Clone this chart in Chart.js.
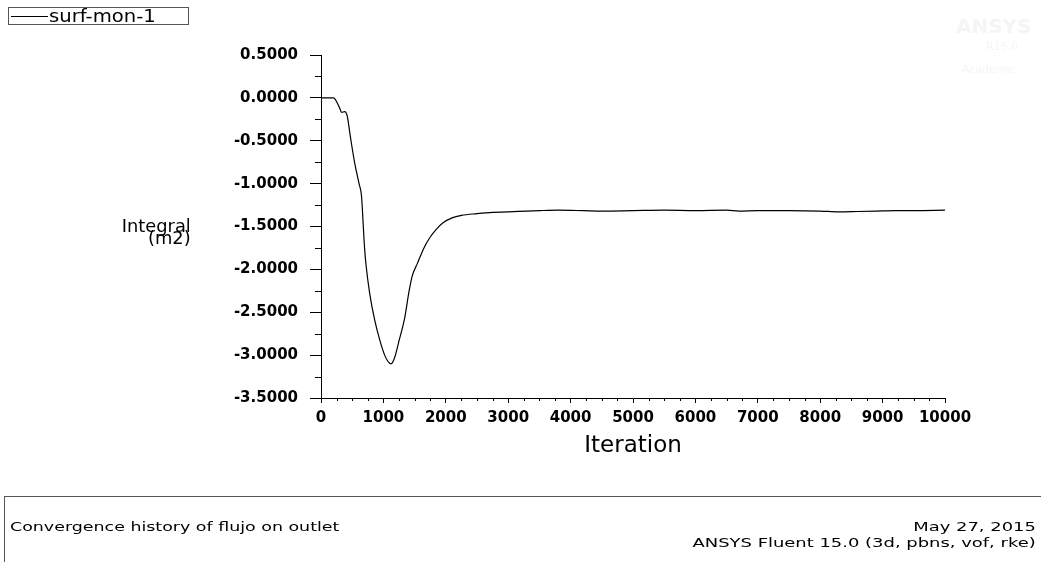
<!DOCTYPE html>
<html><head><meta charset="utf-8">
<script src="https://cdn.jsdelivr.net/npm/chart.js@4/dist/chart.umd.min.js"></script>
<style>
html,body{margin:0;padding:0;background:#fff;}
#wrap{position:relative;width:1041px;height:562px;overflow:hidden;font-family:"DejaVu Sans",sans-serif;color:#000;}
#c{position:absolute;left:0;top:0;width:1041px;height:562px;}
.abs{position:absolute;white-space:nowrap;}
.sl{transform:scaleX(1.34);transform-origin:left center;}
.sr{transform:scaleX(1.38);transform-origin:right center;}
</style></head><body>
<div id="wrap">
<canvas id="c" width="1041" height="562"></canvas>
<div class="abs" style="left:8px;top:7px;width:179px;height:16px;border:1px solid #555;">
  <div class="abs" style="left:2px;top:8px;width:37px;border-top:1px solid #000;"></div>
  <div class="abs" id="legText" style="left:40px;top:-1px;font-size:18px;line-height:18px;transform:scaleX(1.09);transform-origin:left center;"></div>
</div>
<div class="abs" style="right:850px;top:218px;font-size:17px;line-height:17px;text-align:right;transform:scaleX(1.05);transform-origin:right center;">Integral</div>
<div class="abs" style="right:850px;top:230px;font-size:17px;line-height:17px;text-align:right;transform:scaleX(1.05);transform-origin:right center;">(m2)</div>
<div class="abs" style="left:956px;top:14px;font-size:20px;font-weight:bold;color:#f5f5f5;">ANSYS</div>
<div class="abs" style="left:986px;top:40px;font-size:11px;color:#f5f5f5;">R15.0</div>
<div class="abs" style="left:962px;top:63px;font-size:11px;color:#f5f5f5;">Academic</div>
<div class="abs" style="left:4px;top:496px;width:1037px;height:66px;border-top:1px solid #555;border-left:1px solid #555;"></div>
<div class="abs sl" style="left:10px;top:519px;font-size:13px;line-height:15px;">Convergence history of flujo on outlet</div>
<div class="abs sr" style="right:5px;top:519px;font-size:13px;line-height:15px;">May 27, 2015</div>
<div class="abs sr" style="right:5px;top:535px;font-size:13px;line-height:15px;">ANSYS Fluent 15.0 (3d, pbns, vof, rke)</div>
</div>
<script>
const seriesName = 'surf-mon-1';
const iterations = [0,200,300,330,380,420,470,540,610,650,675,700,725,780,860,940,1020,1100,1125,1175,1255,1335,1415,1465,1545,1650,1735,1840,1950,2100,2250,2500,2750,3000,3300,3500,3800,4200,4500,5000,5500,6000,6500,6700,7000,7500,8000,8300,8600,8900,9200,9500,10000];
const integralValues = [0,0,-0.12,-0.17,-0.16,-0.21,-0.45,-0.76,-1.0,-1.15,-1.46,-1.77,-1.97,-2.28,-2.59,-2.82,-3.0,-3.095,-3.10,-3.04,-2.82,-2.59,-2.24,-2.07,-1.93,-1.75,-1.64,-1.54,-1.46,-1.40,-1.37,-1.35,-1.335,-1.33,-1.32,-1.315,-1.31,-1.315,-1.32,-1.315,-1.31,-1.315,-1.31,-1.32,-1.315,-1.315,-1.32,-1.33,-1.325,-1.32,-1.315,-1.315,-1.31];
const xTickValues = [0,1000,2000,3000,4000,5000,6000,7000,8000,9000,10000];
const yTickValues = [0.5,0,-0.5,-1,-1.5,-2,-2.5,-3,-3.5];
const xTitle = 'Iteration';

document.getElementById('legText').textContent = seriesName;

const FONT = 'DejaVu Sans';
const minorTicks = {
  id: 'minorTicks',
  afterDraw(chart) {
    const {ctx, chartArea: a, scales: {x, y}} = chart;
    ctx.save();
    ctx.strokeStyle = '#000';
    ctx.lineWidth = 1;
    ctx.beginPath();
    for (let i = 0; i < yTickValues.length - 1; i++) {
      const v = (yTickValues[i] + yTickValues[i + 1]) / 2;
      const p = Math.round(y.getPixelForValue(v)) + 0.5;
      ctx.moveTo(a.left - 6, p); ctx.lineTo(a.left, p);
    }
    for (let i = 0; i < xTickValues.length - 1; i++) {
      const step = (xTickValues[i + 1] - xTickValues[i]) / 4;
      for (let k = 1; k < 4; k++) {
        const p = Math.round(x.getPixelForValue(xTickValues[i] + k * step)) + 0.5;
        ctx.moveTo(p, a.bottom); ctx.lineTo(p, a.bottom + 3);
      }
    }
    ctx.stroke();
    ctx.restore();
  }
};

function zeroPad(s) { s.paddingLeft = 0; s.paddingRight = 0; s.paddingTop = 0; s.paddingBottom = 0; }

new Chart(document.getElementById('c'), {
  type: 'line',
  data: {
    datasets: [{
      label: seriesName,
      data: iterations.map((it, i) => ({x: it, y: integralValues[i]})),
      borderColor: '#000',
      borderWidth: 1.2,
      pointRadius: 0,
      cubicInterpolationMode: 'monotone',
      fill: false
    }]
  },
  options: {
    responsive: false,
    animation: false,
    devicePixelRatio: 1,
    layout: {padding: {left: 0, top: 55, right: 96, bottom: 102}},
    plugins: {legend: {display: false}, tooltip: {enabled: false}},
    scales: {
      x: {
        type: 'linear', min: 0, max: 10000,
        afterBuildTicks(s) { s.ticks = xTickValues.map(v => ({value: v})); },
        ticks: {callback: v => String(v), font: {family: FONT, size: 15, weight: 'bold'}, color: '#000', padding: 6, maxRotation: 0, autoSkip: false},
        grid: {drawOnChartArea: false, drawTicks: true, tickLength: 5, tickColor: '#000', tickWidth: 1},
        border: {display: true, color: '#000', width: 1},
        title: {display: true, text: xTitle, font: {family: FONT, size: 23}, color: '#000', padding: 0},
        afterFit(s) { s.height = 62; zeroPad(s); }
      },
      y: {
        type: 'linear', min: -3.5, max: 0.5,
        afterBuildTicks(s) { s.ticks = yTickValues.slice().reverse().map(v => ({value: v})); },
        ticks: {callback: v => Number(v).toFixed(4), font: {family: FONT, size: 15, weight: 'bold'}, color: '#000', padding: 12, autoSkip: false},
        grid: {drawOnChartArea: false, drawTicks: true, tickLength: 11, tickColor: '#000', tickWidth: 1},
        border: {display: true, color: '#000', width: 1},
        afterFit(s) { s.width = 321; zeroPad(s); }
      }
    }
  },
  plugins: [minorTicks]
});
</script>
</body></html>
